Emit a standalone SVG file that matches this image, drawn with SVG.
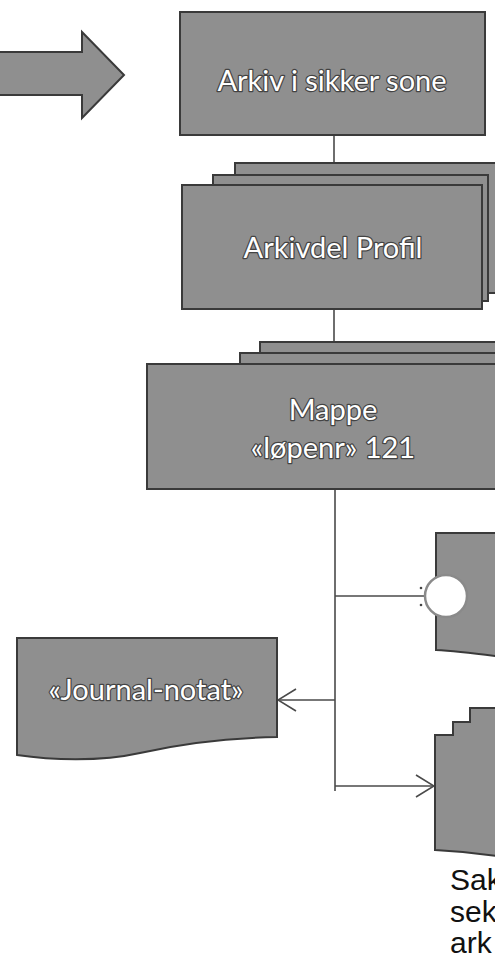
<svg xmlns="http://www.w3.org/2000/svg" width="495" height="963" viewBox="0 0 495 963">
<style>
.box{fill:#8f8f8f;stroke:#3a3a3a;stroke-width:2;stroke-linejoin:miter}
.lbl{font-family:Lato,"Open Sans",sans-serif;font-size:29px;fill:#ffffff;text-anchor:middle;stroke:#2a2a2a;stroke-width:2.5;stroke-opacity:0.75;paint-order:stroke;stroke-linejoin:round}
.conn{fill:none;stroke:#4a4a4a;stroke-width:1.6}
.note{font-family:"Liberation Sans",Arial,sans-serif;font-size:30px;fill:#111111}
</style>
<defs>
<marker id="open" viewBox="0 0 20 24" refX="19" refY="12" markerWidth="20" markerHeight="24" markerUnits="userSpaceOnUse" orient="auto">
<path d="M1,1 L19,12 L1,23" fill="none" stroke="#4a4a4a" stroke-width="1.6"/>
</marker>
</defs>
<rect width="495" height="963" fill="#ffffff"/>

<g id="big-arrow">
<path class="box" d="M-2,52 L82,52 L82,32 L124,75 L82,118 L82,95 L-2,95 Z"/>
</g>

<g id="connectors">
<line class="conn" x1="334" y1="135" x2="334" y2="163"/>
<line class="conn" x1="334" y1="309" x2="334" y2="342"/>
<line class="conn" x1="335" y1="489" x2="335" y2="791"/>
<line class="conn" x1="335" y1="596" x2="425" y2="596"/>
<line class="conn" x1="335" y1="700" x2="278" y2="700" marker-end="url(#open)"/>
<line class="conn" x1="335" y1="786" x2="434" y2="786" marker-end="url(#open)"/>
</g>

<g id="arkiv">
<rect class="box" x="180" y="12" width="305" height="123"/>
<text class="lbl" x="332" y="91">Arkiv i sikker sone</text>
</g>

<g id="arkivdel">
<rect class="box" x="235" y="163" width="270" height="130"/>
<rect class="box" x="213" y="175" width="275" height="126"/>
<rect class="box" x="182" y="185" width="300" height="124"/>
<text class="lbl" x="333" y="258">Arkivdel Profil</text>
</g>

<g id="mappe">
<rect class="box" x="260" y="342" width="250" height="140"/>
<rect class="box" x="240" y="353" width="270" height="132"/>
<rect class="box" x="147" y="364" width="363" height="125"/>
<text class="lbl" x="333" y="420">Mappe</text>
<text class="lbl" x="333" y="458">«løpenr» 121</text>
</g>

<g id="interface-doc">
<path class="box" d="M510,533 L436,533 L436,650 C455,651 480,654 510,658 Z"/>
<circle cx="446" cy="596" r="21" fill="#ffffff" stroke="#8a8a8a" stroke-width="2.5"/>
<circle cx="421" cy="588" r="1.3" fill="#444444"/>
<circle cx="421" cy="605" r="1.3" fill="#444444"/>
</g>

<g id="journal-notat">
<path class="box" d="M17,638 L277,638 L277,737 C220,738 175,745 140,753 C100,762 50,760 17,755 Z"/>
<text class="lbl" x="146" y="700">«Journal-notat»</text>
</g>

<g id="sak-doc">
<path class="box" d="M510,708 L470,708 L470,722 L453,722 L453,735 L435,735 L435,850 C455,851 480,853 510,858 Z"/>
<text class="note" x="450" y="890">Sak</text>
<text class="note" x="450" y="922">sek</text>
<text class="note" x="450" y="953">ark</text>
</g>
</svg>
